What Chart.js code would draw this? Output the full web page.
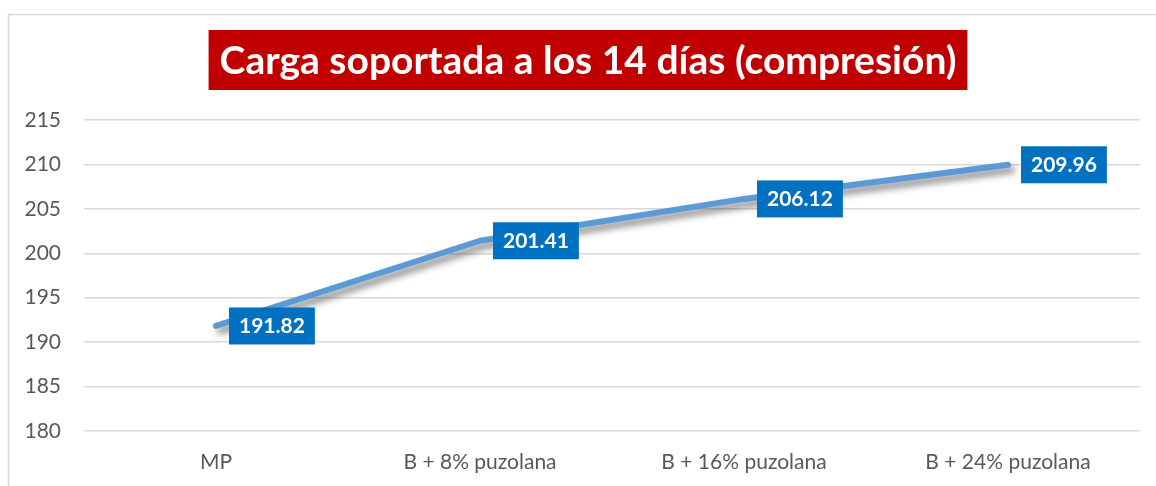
<!DOCTYPE html>
<html>
<head>
<meta charset="utf-8">
<script src="https://cdn.jsdelivr.net/npm/chart.js@4/dist/chart.umd.min.js"></script>
<style>
  html, body { margin: 0; padding: 0; background: #fff; }
  #wrap { width: 1156px; height: 486px; }
</style>
</head>
<body>
<div id="wrap"><canvas id="myChart" width="1156" height="486"></canvas></div>
<script>
var titleText = 'Carga soportada a los 14 días (compresión)';
var categories = ['MP', 'B + 8% puzolana', 'B + 16% puzolana', 'B + 24% puzolana'];
var carga = [191.82, 201.41, 206.12, 209.96];
var yTicks = [180, 185, 190, 195, 200, 205, 210, 215];

var fontName = 'Lato, "Open Sans", sans-serif';

// outer frame and red title box
var framePlugin = {
  id: 'frame',
  beforeDraw: function(chart) {
    var ctx = chart.ctx;
    ctx.save();
    ctx.fillStyle = '#fff';
    ctx.fillRect(0, 0, chart.width, chart.height);
    ctx.strokeStyle = '#d9d9d9';
    ctx.lineWidth = 1.5;
    ctx.beginPath();
    ctx.moveTo(8.5, chart.height);
    ctx.lineTo(8.5, 14.5);
    ctx.lineTo(chart.width, 14.5);
    ctx.stroke();
    ctx.restore();
  },
  afterDraw: function(chart) {
    var ctx = chart.ctx;
    ctx.save();
    ctx.font = 'bold 39px ' + fontName;
    var w = ctx.measureText(titleText).width;
    var cx = 588;
    ctx.fillStyle = '#c00000';
    ctx.fillRect(cx - w / 2 - 11, 30, w + 22, 60);
    ctx.fillStyle = '#fff';
    ctx.textAlign = 'center';
    ctx.textBaseline = 'middle';
    ctx.fillText(titleText, cx, 61);
    ctx.restore();
  }
};

// shadow under the line
var shadowPlugin = {
  id: 'lineShadow',
  beforeDatasetDraw: function(chart) {
    var ctx = chart.ctx;
    ctx.save();
    ctx.shadowColor = 'rgba(0,0,0,0.5)';
    ctx.shadowBlur = 7;
    ctx.shadowOffsetX = 4;
    ctx.shadowOffsetY = 5;
  },
  afterDatasetDraw: function(chart) {
    chart.ctx.restore();
  }
};

// blue boxed value labels
var labelPlugin = {
  id: 'valueLabels',
  afterDatasetsDraw: function(chart) {
    var ctx = chart.ctx;
    var meta = chart.getDatasetMeta(0);
    ctx.save();
    ctx.font = 'bold 21px ' + fontName;
    meta.data.forEach(function(pt, i) {
      var txt = carga[i].toFixed(2);
      var w = ctx.measureText(txt).width + 20;
      var x = pt.x + 13;
      var y = pt.y - 18.5;
      ctx.fillStyle = '#0070c0';
      ctx.fillRect(x, y, w, 37);
      ctx.fillStyle = '#fff';
      ctx.textAlign = 'center';
      ctx.textBaseline = 'middle';
      ctx.fillText(txt, x + w / 2, y + 19);
    });
    ctx.restore();
  }
};

var ctx = document.getElementById('myChart');

var lineGraph = new Chart(ctx, {
  type: 'line',
  data: {
    labels: categories,
    datasets: [
      {
        label: 'Carga',
        data: carga,
        borderColor: '#5b9bd5',
        borderWidth: 6,
        borderCapStyle: 'round',
        borderJoinStyle: 'round',
        pointRadius: 0,
        pointHoverRadius: 0,
        tension: 0,
        fill: false
      }
    ]
  },
  options: {
    responsive: false,
    animation: false,
    layout: {
      padding: { top: 120, right: 16, left: 0, bottom: 0 }
    },
    plugins: {
      legend: { display: false },
      title: { display: false },
      tooltip: { enabled: false }
    },
    scales: {
      x: {
        offset: true,
        grid: { display: false, drawTicks: false },
        border: { display: false },
        ticks: {
          color: '#595959',
          font: { family: fontName, size: 21 },
          padding: 19
        },
        afterFit: function(scale) { scale.height = 55; }
      },
      y: {
        min: 180,
        max: 215,
        grid: { color: '#d9d9d9', lineWidth: 1.5, drawTicks: false },
        border: { display: false },
        afterBuildTicks: function(scale) {
          scale.ticks = yTicks.map(function(v) { return { value: v }; });
        },
        ticks: {
          color: '#595959',
          font: { family: fontName, size: 21 },
          padding: 23
        },
        afterFit: function(scale) { scale.width = 84; }
      }
    }
  },
  plugins: [framePlugin, shadowPlugin, labelPlugin]
});
</script>
</body>
</html>
